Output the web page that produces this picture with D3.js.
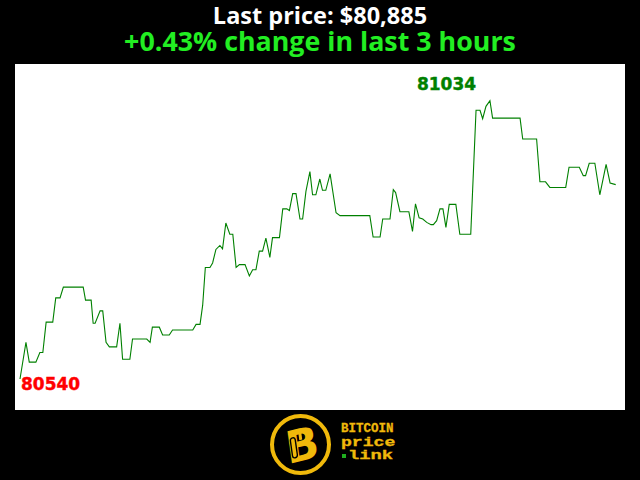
<!DOCTYPE html>
<html><head><meta charset="utf-8">
<script src="https://cdn.jsdelivr.net/npm/d3@7"></script>
<style>html,body{margin:0;padding:0;background:#000;}svg{display:block;}</style>
</head><body>
<script>
// minutes since start of the 3-hour window
const minutes = [0,1.8,2.8,4.8,6.0,6.9,7.9,9.9,10.8,12.1,13.1,19.1,19.8,21.5,22.1,22.7,24.2,25.0,26.0,27.0,29.2,30.2,31.0,33.2,34.0,38.3,39.3,40.0,42.1,43.1,45.1,46.1,52.2,53.2,54.4,55.2,56.0,57.4,58.2,59.2,60.4,61.2,62.2,63.4,64.3,65.3,66.3,68.0,69.3,70.3,71.3,72.3,73.3,74.3,75.5,76.3,78.4,79.4,80.6,81.4,82.4,83.4,84.6,85.4,86.4,87.6,88.4,89.4,90.6,91.4,92.4,93.7,95.5,96.7,105.7,106.7,108.8,109.6,111.8,112.8,113.5,114.8,117.5,118.6,119.5,120.6,121.7,122.9,124.2,124.9,125.9,126.9,127.8,128.7,129.7,131.7,132.9,136.2,137.8,139.0,139.8,140.8,142.0,142.8,151.1,151.9,156.1,157.1,158.8,160.1,164.9,165.9,169.0,170.2,170.9,172.0,173.7,175.2,177.1,178.3,180];
const prices = [80540,80605,80570,80570,80587,80587,80641,80641,80684,80684,80703,80703,80680,80680,80639,80639,80661,80661,80605,80597,80597,80639,80575,80575,80611,80611,80605,80632,80632,80618,80618,80627,80627,80637,80637,80671,80738,80738,80746,80770,80777,80771,80817,80797,80797,80738,80743,80743,80723,80734,80734,80767,80767,80790,80756,80791,80791,80842,80842,80839,80869,80869,80824,80824,80873,80908,80867,80867,80895,80875,80875,80904,80835,80830,80830,80792,80792,80824,80824,80876,80871,80837,80837,80802,80851,80826,80824,80818,80814,80814,80821,80842,80842,80809,80850,80850,80797,80797,81017,81017,81002,81024,81034,81003,81003,80966,80966,80890,80890,80880,80880,80916,80916,80901,80901,80923,80923,80867,80921,80888,80885];
const titleLines = ["Last price: $80,885", "+0.43% change in last 3 hours"];
const logoLines = ["BITCOIN", "price", "link"];

const W = 640, H = 480;
const svg = d3.select("body").append("svg").attr("width", W).attr("height", H);
svg.append("rect").attr("width", W).attr("height", H).attr("fill", "#000");
svg.append("rect").attr("x", 15).attr("y", 64).attr("width", 610).attr("height", 346).attr("fill", "#fff");

const minP = d3.min(prices), maxP = d3.max(prices);
const x = d3.scaleLinear().domain([0, 180]).range([20, 615.7]);
const y = d3.scaleLinear().domain([minP, maxP]).range([379, 100.7]);

const data = minutes.map((m, i) => ({m, p: prices[i]}));
svg.append("path").datum(data)
  .attr("fill", "none").attr("stroke", "#008000").attr("stroke-width", 1.1)
  .attr("d", d3.line().x(d => x(d.m)).y(d => y(d.p)));

// titles
svg.append("text").attr("x", 320).attr("y", 24).attr("text-anchor", "middle")
  .attr("font-family", "Open Sans").attr("font-weight", "bold").attr("font-size", 23.5)
  .attr("fill", "#fff").text(titleLines[0]);
svg.append("text").attr("x", 320).attr("y", 51).attr("text-anchor", "middle")
  .attr("font-family", "Open Sans").attr("font-weight", "bold").attr("font-size", 26.8)
  .attr("fill", "#22ee22").text(titleLines[1]);

// min / max labels
const iMin = prices.indexOf(minP), iMax = prices.indexOf(maxP);
svg.append("text").attr("x", x(minutes[iMin]) + 1).attr("y", y(minP) + 10.5)
  .attr("font-family", "DejaVu Sans").attr("font-weight", "bold").attr("font-size", 17)
  .attr("fill", "#ff0000").attr("stroke", "#ff0000").attr("stroke-width", 0.4).text(String(minP));
svg.append("text").attr("x", x(minutes[iMax]) - 73).attr("y", y(maxP) - 10.5)
  .attr("font-family", "DejaVu Sans").attr("font-weight", "bold").attr("font-size", 17)
  .attr("fill", "#008000").attr("stroke", "#008000").attr("stroke-width", 0.4).text(String(maxP));

// logo
const gold = "#f0b90b";
const g = svg.append("g");
g.append("circle").attr("cx", 300.5).attr("cy", 444.5).attr("r", 28.5)
  .attr("fill", "#000").attr("stroke", gold).attr("stroke-width", 4);
const bg = g.append("g").attr("transform", "translate(301,445) rotate(-14) skewX(-6)");
bg.append("text").attr("x", 1).attr("y", 15.5).attr("text-anchor", "middle")
  .attr("font-family", "DejaVu Sans").attr("font-weight", "bold")
  .attr("font-size", 44).attr("fill", gold).text("B");
bg.append("rect").attr("x", -9).attr("y", -13).attr("width", 3).attr("height", 8).attr("fill", gold);
bg.append("rect").attr("x", -1).attr("y", -13).attr("width", 3).attr("height", 8).attr("fill", gold);
bg.append("rect").attr("x", -10).attr("y", -9).attr("width", 5).attr("height", 20).attr("rx", 2.5)
  .attr("fill", "none").attr("stroke", "#000").attr("stroke-width", 1.4);
const ly = [432, 445.5, 459];
const lx = [341, 341, 348];
const sx = [1.0, 1.45, 1.5];
logoLines.forEach((t, i) => {
  g.append("text").attr("transform", `translate(${lx[i]},${ly[i]}) scale(${sx[i]},1)`)
    .attr("font-family", "Liberation Mono").attr("font-weight", "bold").attr("font-size", 12.5)
    .attr("fill", gold).attr("stroke", gold).attr("stroke-width", 0.3).text(t);
});
g.append("rect").attr("x", 342).attr("y", 454).attr("width", 4).attr("height", 4).attr("fill", "#1fae1f");
</script>
</body></html>
